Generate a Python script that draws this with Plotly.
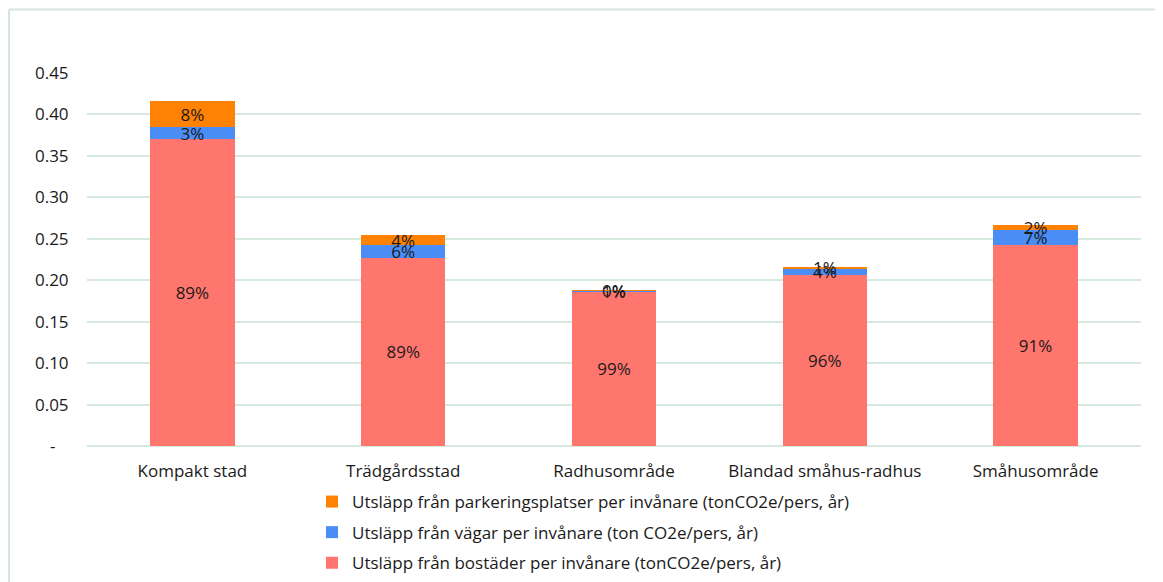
import plotly.graph_objects as go

categories = ["Kompakt stad", "Trädgårdsstad", "Radhusområde", "Blandad småhus-radhus", "Småhusområde"]

bostader = [0.370, 0.227, 0.186, 0.206, 0.243]
vagar = [0.0145, 0.016, 0.0016, 0.0085, 0.018]
parkering = [0.032, 0.011, 0.0004, 0.0016, 0.006]

bostader_lbl = ["89%", "89%", "99%", "96%", "91%"]
vagar_lbl = ["3%", "6%", "1%", "4%", "7%"]
parkering_lbl = ["8%", "4%", "0%", "1%", "2%"]

names = [
    "Utsläpp från bostäder per invånare (tonCO2e/pers, år)",
    "Utsläpp från vägar per invånare (ton CO2e/pers, år)",
    "Utsläpp från parkeringsplatser per invånare (tonCO2e/pers, år)",
]
colors = ["#FF766E", "#4A8DF6", "#FF8205"]

yticks = [0, 0.05, 0.10, 0.15, 0.20, 0.25, 0.30, 0.35, 0.40, 0.45]
ytick_text = ["-   ", "0.05", "0.10", "0.15", "0.20", "0.25", "0.30", "0.35", "0.40", "0.45"]

FONT = "Open Sans"
FS = 17
ML, MT, PW, PH = 79, 65, 1054, 373

fig = go.Figure()
for i, (vals, lbls) in enumerate([(bostader, bostader_lbl), (vagar, vagar_lbl), (parkering, parkering_lbl)]):
    fig.add_trace(go.Bar(
        x=categories, y=vals, name=names[i], text=lbls,
        textposition="inside", insidetextanchor="middle",
        textfont=dict(color="#1a1a1a", size=FS, family=FONT),
        marker=dict(color=colors[i], line=dict(width=0)),
        legendgroup=str(i), legendrank=1000 - i, width=0.4, cliponaxis=False,
        hoverinfo="skip",
    ))

fig.update_layout(
    barmode="stack",
    width=1163, height=582,
    margin=dict(l=ML, r=1163 - ML - PW, t=MT, b=582 - MT - PH, autoexpand=False),
    paper_bgcolor="white", plot_bgcolor="white",
    font=dict(family=FONT, size=FS, color="#1a1a1a"),
    uniformtext=dict(mode="show", minsize=FS),
    showlegend=True,
    legend=dict(
        orientation="v", traceorder="grouped",
        x=(304 - ML) / PW, xanchor="left", y=-38 / PH, yanchor="top",
        font=dict(size=FS, family=FONT, color="#1a1a1a"),
        tracegroupgap=5.5, itemwidth=30,
        bgcolor="rgba(0,0,0,0)",
    ),
    xaxis=dict(
        showgrid=False, showline=False, zeroline=False,
        ticks="outside", ticklen=10, tickcolor="rgba(0,0,0,0)",
        tickfont=dict(size=FS, family=FONT, color="#1a1a1a"),
    ),
    yaxis=dict(
        range=[0, 0.45], tickvals=yticks, ticktext=ytick_text,
        showgrid=True, gridcolor="#D6E9DD", gridwidth=2,
        zeroline=True, zerolinecolor="#D6E9DD", zerolinewidth=2,
        showline=False, ticks="outside", ticklen=14, tickcolor="rgba(0,0,0,0)",
        tickfont=dict(size=FS, family=FONT, color="#1a1a1a"),
    ),
    shapes=[
        dict(type="line", xref="paper", yref="paper",
             x0=(1 - ML) / PW, x1=(1 - ML) / PW, y0=-(582 - MT - PH) / PH, y1=1 + (MT - 1.5) / PH,
             line=dict(color="#D6E5DC", width=2), layer="below"),
        dict(type="line", xref="paper", yref="paper",
             x0=(1 - ML) / PW, x1=(1163 - ML) / PW, y0=1 + (MT - 1.5) / PH, y1=1 + (MT - 1.5) / PH,
             line=dict(color="#D6E5DC", width=2), layer="below"),
    ],
)

fig.write_html("out.html")
